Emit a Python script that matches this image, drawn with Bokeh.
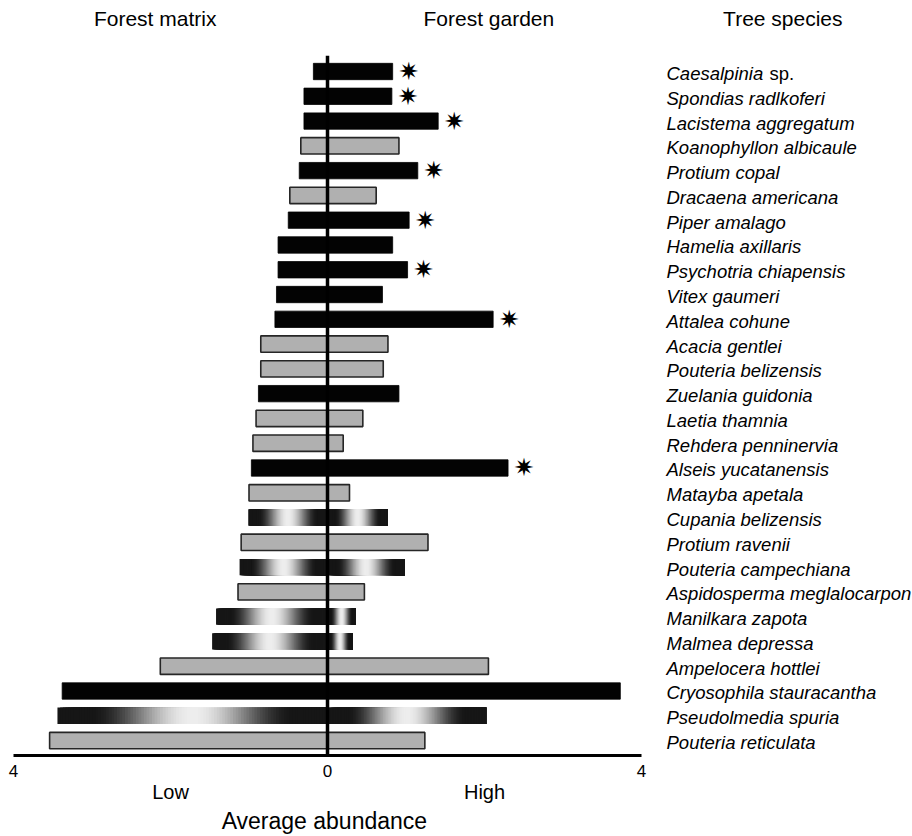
import numpy as np
from bokeh.plotting import figure
from bokeh.models import Range1d, LinearAxis, FixedTicker, Span, ColumnDataSource
from bokeh.core.properties import value
from bokeh.embed import file_html
from bokeh.resources import INLINE

# ---------------- data ----------------
species = [
    "Caesalpinia sp.", "Spondias radlkoferi", "Lacistema aggregatum",
    "Koanophyllon albicaule", "Protium copal", "Dracaena americana",
    "Piper amalago", "Hamelia axillaris", "Psychotria chiapensis",
    "Vitex gaumeri", "Attalea cohune", "Acacia gentlei",
    "Pouteria belizensis", "Zuelania guidonia", "Laetia thamnia",
    "Rehdera penninervia", "Alseis yucatanensis", "Matayba apetala",
    "Cupania belizensis", "Protium ravenii", "Pouteria campechiana",
    "Aspidosperma meglalocarpon", "Manilkara zapota", "Malmea depressa",
    "Ampelocera hottlei", "Cryosophila stauracantha", "Pseudolmedia spuria",
    "Pouteria reticulata",
]
forest_matrix = [0.18, 0.30, 0.30, 0.34, 0.36, 0.48, 0.50, 0.63, 0.63, 0.65,
                 0.67, 0.85, 0.85, 0.88, 0.91, 0.95, 0.97, 1.00, 1.01, 1.10,
                 1.12, 1.14, 1.42, 1.47, 2.13, 3.38, 3.44, 3.54]
forest_garden = [0.83, 0.82, 1.41, 0.91, 1.15, 0.62, 1.04, 0.83, 1.02, 0.70,
                 2.11, 0.77, 0.71, 0.91, 0.45, 0.20, 2.30, 0.28, 0.77, 1.28,
                 0.98, 0.47, 0.36, 0.32, 2.05, 3.73, 2.02, 1.24]
bar_style = ["black", "black", "black", "gray", "black", "gray", "black",
             "black", "black", "black", "black", "gray", "gray", "black",
             "gray", "gray", "black", "gray", "grad", "gray", "grad", "gray",
             "grad", "grad", "gray", "black", "grad", "gray"]
significant = [True, True, True, False, True, False, True, False, True, False,
               True, False, False, False, False, False, True, False, False,
               False, False, False, False, False, False, False, False, False]
x_ticks = [-4, 0, 4]
x_tick_labels = {-4: "4", 0: "0", 4: "4"}
level_ticks = {-2: "Low", 2: "High"}
x_title = "Average abundance"
headers = ["Forest matrix", "Forest garden", "Tree species"]

# ---------------- figure ----------------
n = len(species)
row = list(range(n))
FONT = "Liberation Sans"

p = figure(width=912, height=836, output_backend="svg", toolbar_location=None,
           x_range=Range1d(-4, 7.452), y_range=Range1d(27.603, -0.646),
           x_axis_location=None, y_axis_location=None,
           min_border_left=13, min_border_right=0, min_border_top=55,
           min_border_bottom=81)
p.outline_line_color = None
p.xgrid.visible = False
p.ygrid.visible = False
p.background_fill_color = "white"
p.border_fill_color = "white"

BAR_H = 0.66

def subset(kind):
    idx = [i for i in row if bar_style[i] == kind]
    return ColumnDataSource(dict(
        y=idx,
        left=[-forest_matrix[i] for i in idx],
        right=[forest_garden[i] for i in idx],
    ))

p.hbar(y="y", left="left", right="right", height=BAR_H, source=subset("black"),
       fill_color="#030303", line_color="#030303", line_width=0.8)
p.hbar(y="y", left="left", right="right", height=BAR_H, source=subset("gray"),
       fill_color="#b0b0b0", line_color="#262626", line_width=1.6)

# cylinder-like shaded bars, built from strips (each strip runs to the end of
# its half so that neighbours overlap without seams)
N = 100
t = (np.arange(N) + 0.5) / N
d = np.clip(np.abs(t - 0.5) / 0.38, 0, 1)
bright = 0.5 * (1 + np.cos(np.pi * d))
shade = (22 + (238 - 22) * bright).astype(int)
strip_colors = ["#%02x%02x%02x" % (s, s, s) for s in shade]
gl, gr, gy, gc = [], [], [], []
for i in row:
    if bar_style[i] != "grad":
        continue
    for a, b in ((-forest_matrix[i], 0.0), (0.0, forest_garden[i])):
        w = (b - a) / N
        for k in range(N):
            gl.append(a + w * k)
            gr.append(b)
            gy.append(i)
            gc.append(strip_colors[k])
p.hbar(y=gy, left=gl, right=gr, height=BAR_H, fill_color=gc, line_color=None)

# zero line
p.add_layout(Span(location=0, dimension="height", line_color="black", line_width=3.5))

# significance stars
sig_rows = [i for i in row if significant[i]]
p.text(x=[forest_garden[i] for i in sig_rows], y=sig_rows, text=["\u2737"] * len(sig_rows),
       x_offset=16, text_align="center", text_baseline="middle",
       text_font=value("DejaVu Sans"), text_font_size="25px", text_color="black")

# species labels
ital = [s.replace(" sp.", "") for s in species]
p.text(x=[4] * n, y=row, text=ital, x_offset=25, y_offset=2,
       text_align="left", text_baseline="middle", text_font=value(FONT),
       text_font_style="italic", text_font_size="18.5px", text_color="black")
sp_rows = [i for i in row if species[i].endswith(" sp.")]
p.text(x=[4] * len(sp_rows), y=sp_rows, text=["sp."] * len(sp_rows), x_offset=25 + 103, y_offset=2,
       text_align="left", text_baseline="middle", text_font=value(FONT),
       text_font_style="normal", text_font_size="18.5px", text_color="black")

def bare_axis(ticks, labels, size, standoff, **kw):
    return LinearAxis(ticker=FixedTicker(ticks=ticks), major_label_overrides=labels,
                      major_tick_out=0, major_tick_in=0, minor_tick_out=0, minor_tick_in=0,
                      major_label_standoff=standoff, major_label_text_font=FONT,
                      major_label_text_font_size=size, major_label_text_color="black", **kw)

# axes below
ax1 = bare_axis(x_ticks, x_tick_labels, "17px", 9, bounds=(-4, 4),
                axis_line_width=3, axis_line_color="black")
p.add_layout(ax1, "below")
ax2 = bare_axis(list(level_ticks.keys()), level_ticks, "20px", 1, axis_line_color=None)
p.add_layout(ax2, "below")
ax3 = bare_axis([-0.04], {-0.04: x_title}, "23px", 2, axis_line_color=None)
p.add_layout(ax3, "below")

# column headers (as an axis above the frame)
ax_top = bare_axis([-2.195, 2.055, 5.80], {-2.195: headers[0], 2.055: headers[1], 5.80: headers[2]},
                   "21px", 26, axis_line_color=None)
p.add_layout(ax_top, "above")

open("out.html", "w").write(file_html(p, INLINE))
